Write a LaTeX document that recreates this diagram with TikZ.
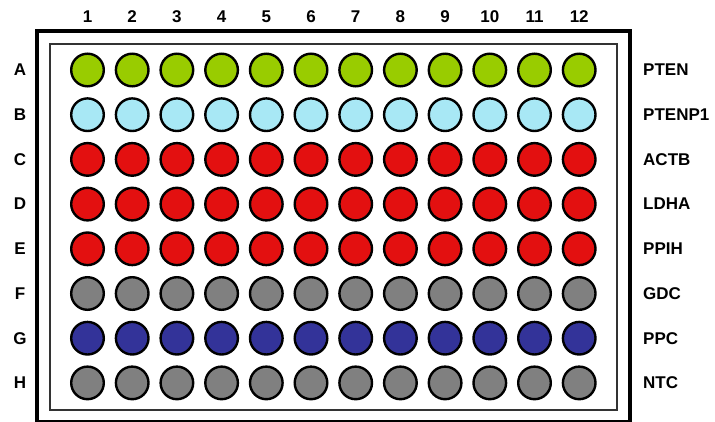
\documentclass[tikz,border=0pt]{standalone}
\usepackage{fontspec}
\setmainfont{Liberation Sans}
\definecolor{wgreen}{HTML}{99CC00}
\definecolor{wcyan}{HTML}{A8E8F5}
\definecolor{wred}{HTML}{E31010}
\definecolor{wgray}{HTML}{808080}
\definecolor{wblue}{HTML}{333399}
\begin{document}
\begin{tikzpicture}[x=1pt,y=-1pt,
  well/.style={circle,draw=black,line width=2.4pt,minimum size=32.6pt,inner sep=0pt},
  lab/.style={font=\fontsize{17}{19}\selectfont\bfseries,inner sep=0pt}]
\useasboundingbox (0,0) rectangle (715,421);
\clip (0,0) rectangle (715,421);
\fill[white] (0,0) rectangle (715,421);
\draw[line width=4pt] (37,31) rectangle (629.5,421.5);
\draw[line width=2pt,draw=black!80] (49.5,44) rectangle (617,410);
\foreach \c in {1,...,12}{
  \node[lab] (col\c) at ({87.5+44.7*(\c-1)},17) {\c};
}
\foreach \r/\n/\col [count=\i from 0] in {A/PTEN/wgreen,B/PTENP1/wcyan,C/ACTB/wred,D/LDHA/wred,E/PPIH/wred,F/GDC/wgray,G/PPC/wblue,H/NTC/wgray}{
  \node[lab] (row\r) at (20,{70+44.7*\i}) {\r};
  \node[lab,anchor=west] (name\r) at (643,{70+44.7*\i}) {\n};
  \foreach \c in {1,...,12}{
    \node[well,fill=\col] (w\r\c) at ({87.5+44.7*(\c-1)},{70+44.7*\i}) {};
  }
}
\end{tikzpicture}
\end{document}
